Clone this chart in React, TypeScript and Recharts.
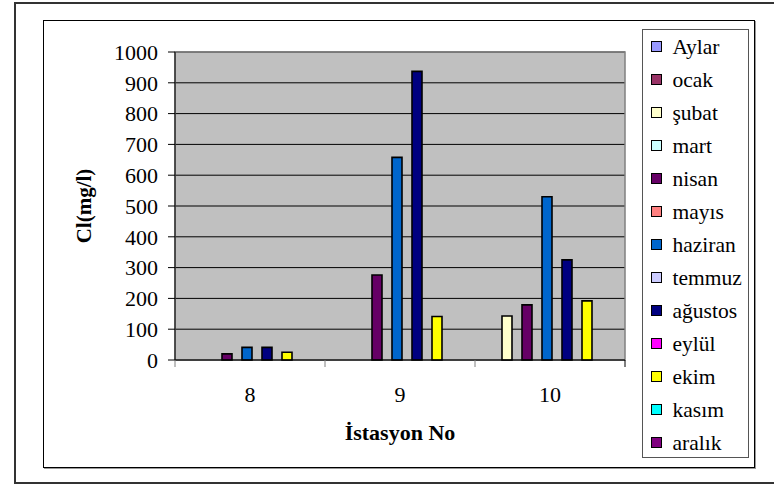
import { BarChart, Bar, XAxis, YAxis, CartesianGrid, ReferenceArea } from 'recharts'

const stations = ['8', '9', '10']

const months = [
  'Aylar', 'ocak', 'şubat', 'mart', 'nisan', 'mayıs', 'haziran',
  'temmuz', 'ağustos', 'eylül', 'ekim', 'kasım', 'aralık',
]

const monthColors = [
  '#9999ff', '#993366', '#ffffcc', '#ccffff', '#660066', '#ff8080', '#0066cc',
  '#ccccff', '#000080', '#ff00ff', '#ffff00', '#00ffff', '#800080',
]

// Cl (mg/l) per station 8, 9, 10
const aylar = [null, null, null]
const ocak = [null, null, null]
const subat = [null, null, 143]
const mart = [null, null, null]
const nisan = [20, 276, 179]
const mayis = [null, null, null]
const haziran = [41, 658, 530]
const temmuz = [null, null, null]
const agustos = [41, 937, 325]
const eylul = [null, null, null]
const ekim = [25, 141, 192]
const kasim = [null, null, null]
const aralik = [null, null, null]

const yTicks = [0, 100, 200, 300, 400, 500, 600, 700, 800, 900, 1000]

const seriesValues: (number | null)[][] = [
  aylar, ocak, subat, mart, nisan, mayis, haziran, temmuz, agustos, eylul, ekim, kasim, aralik,
]

const data = stations.map((station, i) => {
  const row: Record<string, string | number | null> = { station }
  seriesValues.forEach((vals, k) => {
    row[`m${k}`] = vals[i]
  })
  return row
})

const FONT = '"Liberation Serif", "Times New Roman", serif'

function StationTick(props: any) {
  const { x, y, payload, index, visibleTicksCount } = props
  const half = payload?.offset ?? 0
  const last = index === visibleTicksCount - 1
  return (
    <g>
      <line x1={x - half} x2={x - half} y1={y} y2={y + 7} stroke="#808080" />
      {last && <line x1={x + half} x2={x + half} y1={y} y2={y + 7} stroke="#000" />}
      <text x={x} y={y + 42} textAnchor="middle" fontSize={22} fontFamily={FONT} fill="#000">
        {payload.value}
      </text>
    </g>
  )
}

function YTitle(props: any) {
  const vb = props.viewBox || { x: 0, y: 0, width: 0, height: 0 }
  const cx = vb.x + vb.width / 2 - 4
  const cy = vb.y + vb.height / 2
  return (
    <text
      x={cx}
      y={cy}
      transform={`rotate(-90 ${cx} ${cy})`}
      textAnchor="middle"
      dominantBaseline="central"
      fontSize={21}
      fontWeight="bold"
      fontFamily={FONT}
      fill="#000"
    >
      Cl(mg/l)
    </text>
  )
}

export default function App() {
  return (
    <div
      style={{
        position: 'absolute',
        left: 0,
        top: 0,
        width: 774,
        height: 485,
        overflow: 'hidden',
        background: '#fff',
        fontFamily: FONT,
      }}
    >
      <div
        style={{
          position: 'absolute',
          left: 14,
          top: 2,
          width: 790,
          height: 482,
          border: '2px solid #333',
          boxSizing: 'border-box',
        }}
      />
      <div
        style={{
          position: 'absolute',
          left: 43,
          top: 20,
          width: 712,
          height: 448,
          border: '1px solid #000',
          boxShadow: '1px 1px 0 #999',
          boxSizing: 'border-box',
        }}
      />
      <div style={{ position: 'absolute', left: 0, top: 0 }}>
        <BarChart
          width={774}
          height={485}
          data={data}
          margin={{ top: 52, right: 149, bottom: 0, left: 0 }}
          barCategoryGap={7}
          barGap={0}
        >
          <CartesianGrid vertical={false} stroke="#000" fill="#c0c0c0" fillOpacity={1} />
          <ReferenceArea y1={0} y2={1000} fill="none" stroke="#808080" strokeWidth={1.5} />
          <XAxis
            dataKey="station"
            height={125}
            axisLine={{ stroke: '#000' }}
            tickLine={false}
            tickSize={0}
            tickMargin={0}
            tick={<StationTick />}
            interval={0}
            label={{
              value: 'İstasyon No',
              position: 'insideBottom',
              offset: 45,
              fontSize: 22,
              fontWeight: 'bold',
              fontFamily: FONT,
              fill: '#000',
            }}
          />
          <YAxis
            width={175}
            domain={[0, 1000]}
            ticks={yTicks}
            interval={0}
            axisLine={{ stroke: '#000' }}
            tickLine={{ stroke: '#000' }}
            tickSize={7}
            tickMargin={10}
            tick={{ fontSize: 22, fontFamily: FONT, fill: '#000' }}
            label={<YTitle />}
          />
          {months.map((m, k) => (
            <Bar
              key={m}
              dataKey={`m${k}`}
              name={m}
              fill={monthColors[k]}
              stroke="#000"
              strokeWidth={1.6}
              isAnimationActive={false}
            />
          ))}
        </BarChart>
      </div>
      <div
        style={{
          position: 'absolute',
          left: 642,
          top: 29,
          width: 107,
          height: 429,
          border: '1.5px solid #555',
          boxSizing: 'border-box',
          background: '#fff',
        }}
      >
        {months.map((m, i) => (
          <div
            key={m}
            style={{
              position: 'absolute',
              left: 7.5,
              top: 4.5 + i * 33,
              height: 24,
              display: 'flex',
              alignItems: 'center',
              whiteSpace: 'nowrap',
            }}
          >
            <span
              style={{
                display: 'inline-block',
                width: 11,
                height: 11,
                border: '1px solid #000',
                background: monthColors[i],
                marginRight: 11,
                boxSizing: 'border-box',
              }}
            />
            <span style={{ fontSize: 21.5, color: '#000', lineHeight: '24px' }}>{m}</span>
          </div>
        ))}
      </div>
    </div>
  )
}
